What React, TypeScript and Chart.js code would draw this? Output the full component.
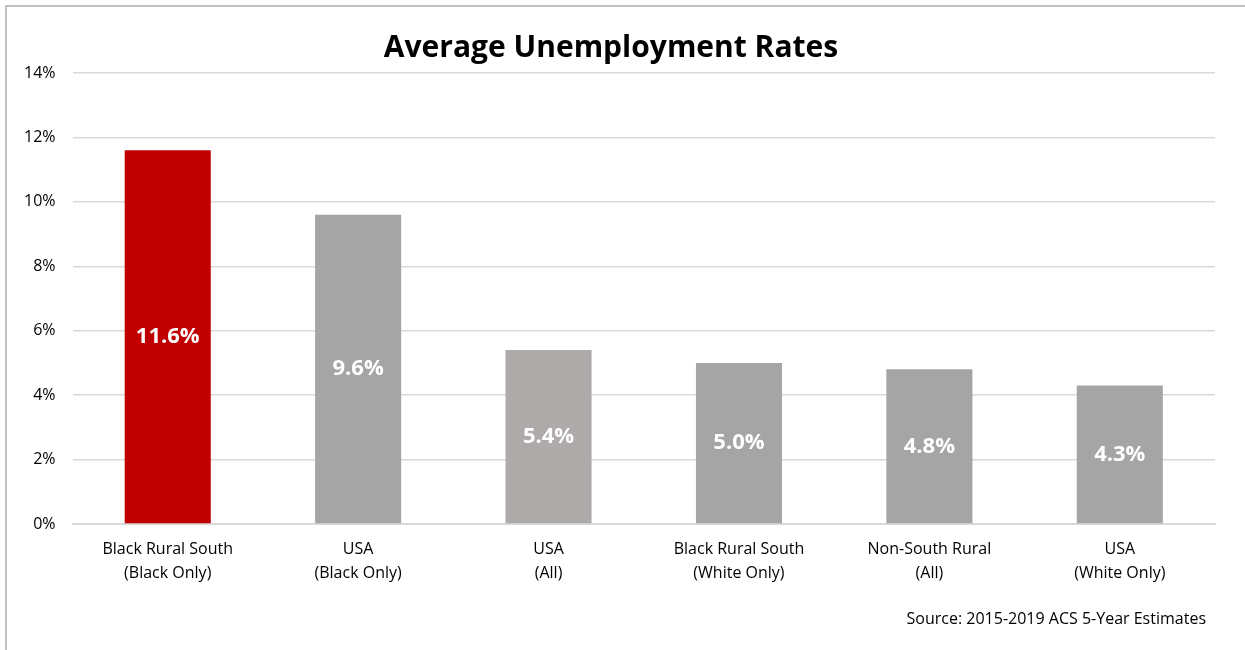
import React, { useEffect, useRef } from "react";
import { Chart, registerables } from "chart.js";

Chart.register(...registerables);

const categories: string[][] = [
  ["Black Rural South", "(Black Only)"],
  ["USA", "(Black Only)"],
  ["USA", "(All)"],
  ["Black Rural South", "(White Only)"],
  ["Non-South Rural", "(All)"],
  ["USA", "(White Only)"],
];
const rates: number[] = [11.6, 9.6, 5.4, 5.0, 4.8, 4.3];
const barColors: string[] = ["#C00000", "#A5A5A5", "#AEAAAA", "#A5A5A5", "#A5A5A5", "#A5A5A5"];
const yTicks: number[] = [0, 2, 4, 6, 8, 10, 12, 14];
const titleText = "Average Unemployment Rates";
const sourceText = "Source: 2015-2019 ACS 5-Year Estimates";

const FONT = "'Open Sans', 'Liberation Sans', sans-serif";

const valueLabels = {
  id: "valueLabels",
  afterDatasetsDraw(chart: any) {
    const ctx = chart.ctx;
    const meta = chart.getDatasetMeta(0);
    ctx.save();
    ctx.fillStyle = "#ffffff";
    ctx.font = `bold 22px ${FONT}`;
    ctx.textAlign = "center";
    ctx.textBaseline = "middle";
    meta.data.forEach((bar: any, i: number) => {
      const { x, y, base } = bar.getProps(["x", "y", "base"], true);
      ctx.fillText(rates[i].toFixed(1) + "%", x, (y + base) / 2);
    });
    ctx.restore();
  },
};

const sourceNote = {
  id: "sourceNote",
  afterDraw(chart: any) {
    const ctx = chart.ctx;
    ctx.save();
    ctx.fillStyle = "#000000";
    ctx.font = `16px ${FONT}`;
    ctx.textAlign = "right";
    ctx.textBaseline = "middle";
    ctx.fillText(sourceText, chart.chartArea.right - 9, chart.height - 31);
    ctx.restore();
  },
};

export default function App() {
  const ref = useRef<HTMLCanvasElement>(null);
  useEffect(() => {
    if (!ref.current) return;
    const chart = new Chart(ref.current, {
      type: "bar",
      data: {
        labels: categories,
        datasets: [
          {
            data: rates,
            backgroundColor: barColors,
            barPercentage: 1,
            categoryPercentage: 0.452,
          },
        ],
      },
      options: {
        animation: false,
        responsive: false,
        layout: { padding: { left: 7, right: 30, top: 0, bottom: 52 } },
        plugins: {
          legend: { display: false },
          tooltip: { enabled: false },
          title: {
            display: true,
            text: titleText,
            color: "#000000",
            font: { family: FONT, size: 30, weight: "bold" },
            padding: { top: 30, bottom: 7 },
          },
        },
        scales: {
          x: {
            grid: { display: false, drawTicks: false },
            border: { display: true, color: "#d9d9d9", width: 2 },
            ticks: {
              color: "#000000",
              font: { family: FONT, size: 16, lineHeight: 1.5 },
              padding: 13,
              maxRotation: 0,
              autoSkip: false,
            },
          },
          y: {
            min: 0,
            max: 14,
            afterBuildTicks(axis: any) {
              axis.ticks = yTicks.map((v) => ({ value: v }));
            },
            grid: { color: "#d9d9d9", lineWidth: 1.5, drawTicks: false },
            border: { display: false },
            ticks: {
              color: "#000000",
              font: { family: FONT, size: 16 },
              padding: 17,
              callback: (v: any) => v + "%",
            },
          },
        },
      },
      plugins: [valueLabels, sourceNote],
    });
    return () => chart.destroy();
  }, []);

  return (
    <div style={{ position: "absolute", left: 0, top: 0, width: 1245, height: 650, background: "#fff", overflow: "hidden" }}>
      <div
        style={{
          position: "absolute",
          left: 5,
          top: 5,
          width: 1260,
          height: 670,
          border: "2px solid #c0c0c0",
          boxSizing: "border-box",
        }}
      />
      <canvas ref={ref} width={1245} height={650} style={{ position: "absolute", left: 0, top: 0 }} />
    </div>
  );
}
